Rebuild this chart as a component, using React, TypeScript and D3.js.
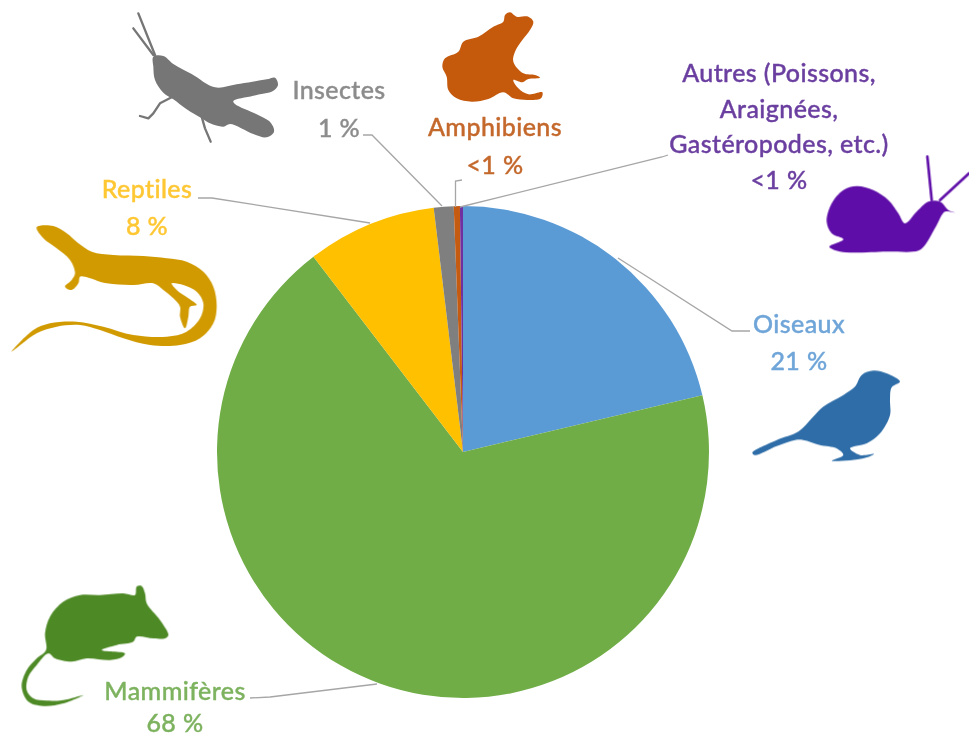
import { arc, curveCatmullRomClosed, line, pie } from "d3"

// parts du camembert, dans le sens horaire depuis midi
const categories = ["Oiseaux", "Mammifères", "Reptiles", "Insectes", "Amphibiens", "Autres"]
const shares = [21.3, 68.3, 8.5, 1.3, 0.4, 0.2]
const sliceColors = ["#5B9BD5", "#70AD47", "#FFC000", "#7F7F7F", "#C55A11", "#7030A0"]

// étiquettes
const labelLines = [
  ["Oiseaux", "21 %"],
  ["Mammifères", "68 %"],
  ["Reptiles", "8 %"],
  ["Insectes", "1 %"],
  ["Amphibiens", "<1 %"],
  ["Autres (Poissons,", "Araignées,", "Gastéropodes, etc.)", "<1 %"],
]
const labelColors = ["#6FA5D8", "#7DB25F", "#FFC733", "#8C8C8C", "#C4682C", "#6B3FA0"]
const labelX = [799, 175, 147, 339, 495, 779]
const labelY = [333, 700, 198, 99, 136, 82]
const labelStep = [37, 32, 37, 38, 38, 35.5]

// traits de rappel
const leaders: [number, number][][] = [
  [[618, 258], [732, 331], [750, 331]],
  [[377, 684], [270, 697], [250, 698]],
  [[370, 223], [212, 198], [198, 198]],
  [[442, 206], [372, 135], [363, 135]],
  [[455.5, 207], [455.5, 181], [462, 180]],
  [[460, 207], [662, 157], [668, 155]],
]

type Pt = [number, number]
interface Icon {
  color: string
  x: number
  y: number
  k: number
  outline: Pt[]
  strokes?: Pt[][]
  strokeWidth?: number
}

// silhouettes
const icons: Icon[] = [
  {
    color: "#767676", x: 120, y: 0, k: 1 / 3, strokeWidth: 7,
    outline: [[100, 170], [130, 168], [160, 192], [215, 222], [285, 262], [350, 253], [440, 238], [465, 233], [474, 255], [460, 272], [400, 287], [340, 303], [345, 312], [410, 343], [452, 368], [462, 395], [440, 412], [400, 402], [330, 372], [310, 380], [270, 370], [245, 355], [200, 328], [160, 298], [130, 278], [105, 240], [100, 200]],
    strokes: [
      [[55, 40], [105, 165]],
      [[40, 85], [100, 165]],
      [[155, 292], [120, 310], [100, 340], [85, 355], [60, 348]],
      [[245, 350], [255, 385], [272, 425]],
    ],
  },
  {
    color: "#C55A11", x: 435, y: 5, k: 1 / 3,
    outline: [[210, 30], [225, 22], [245, 35], [280, 35], [295, 50], [285, 75], [262, 105], [240, 140], [235, 170], [265, 205], [300, 210], [315, 218], [280, 222], [262, 232], [235, 225], [250, 250], [280, 268], [322, 262], [318, 280], [280, 285], [235, 280], [205, 262], [160, 282], [110, 290], [65, 280], [40, 255], [35, 215], [22, 185], [30, 160], [70, 140], [85, 110], [130, 95], [175, 65], [205, 50]],
  },
  {
    color: "#5F0FA8", x: 820, y: 150, k: 1 / 3, strokeWidth: 8,
    outline: [[20, 215], [35, 160], [70, 120], [110, 108], [160, 120], [205, 150], [235, 190], [255, 220], [290, 185], [325, 155], [360, 155], [385, 180], [405, 188], [375, 185], [350, 225], [315, 285], [295, 302], [200, 305], [60, 305], [28, 290], [70, 268], [35, 250]],
    strokes: [
      [[322, 20], [335, 150]],
      [[447, 70], [360, 150]],
    ],
  },
  {
    color: "#D09A00", x: 0, y: 170, k: 1 / 3,
    outline: [[110, 172], [160, 168], [200, 190], [235, 220], [275, 245], [340, 255], [430, 258], [500, 265], [560, 275], [610, 305], [640, 350], [650, 410], [640, 460], [600, 505], [540, 525], [450, 525], [370, 505], [300, 480], [240, 465], [170, 470], [110, 490], [35, 545], [100, 480], [150, 460], [230, 455], [310, 470], [400, 495], [500, 500], [560, 485], [600, 445], [610, 400], [590, 365], [550, 345], [515, 340], [530, 360], [565, 385], [590, 405], [570, 410], [565, 440], [555, 475], [540, 440], [540, 410], [520, 385], [490, 360], [460, 340], [400, 345], [320, 340], [255, 320], [240, 320], [235, 340], [215, 360], [195, 350], [215, 330], [225, 310], [210, 270], [170, 235], [130, 205]],
  },
  {
    color: "#4E8A26", x: 0, y: 570, k: 1 / 3,
    outline: [[135, 190], [150, 140], [190, 95], [240, 75], [300, 75], [370, 70], [405, 75], [410, 50], [425, 48], [435, 70], [440, 100], [480, 150], [505, 195], [495, 205], [460, 205], [410, 200], [400, 215], [350, 225], [305, 240], [375, 250], [365, 262], [330, 270], [260, 265], [215, 275], [165, 265], [145, 250], [110, 285], [85, 320], [80, 360], [100, 385], [140, 392], [190, 390], [250, 375], [190, 400], [130, 408], [85, 395], [65, 350], [80, 300], [110, 265], [138, 240]],
  },
  {
    color: "#2E6DA8", x: 720, y: 300, k: 1 / 3,
    outline: [[97, 458], [170, 420], [235, 395], [275, 355], [310, 320], [370, 285], [405, 260], [425, 225], [460, 212], [500, 220], [540, 245], [515, 262], [510, 300], [510, 345], [480, 400], [440, 430], [390, 445], [420, 465], [462, 462], [430, 475], [335, 482], [370, 465], [350, 445], [300, 435], [250, 420], [225, 420], [170, 438], [105, 465]],
  },
]

const width = 969
const height = 737
const cx = 463
const cy = 452
const radius = 246

export default function App() {
  const slices = pie<number>().sort(null)(shares)
  const sliceArc = arc<any>().innerRadius(0).outerRadius(radius)
  const straight = line()
  const smooth = line().curve(curveCatmullRomClosed.alpha(0.5))

  return (
    <svg
      width={width}
      height={height}
      viewBox={`0 0 ${width} ${height}`}
      style={{ position: "absolute", left: 0, top: 0, background: "#fff" }}
      fontFamily="Lato, sans-serif"
      fontWeight={500}
      fontSize={25}
      letterSpacing={0.4}
    >
      <defs>
        <filter id="soft" x="-5%" y="-5%" width="110%" height="110%">
          <feGaussianBlur stdDeviation="0.45" />
        </filter>
      </defs>

      <g transform={`translate(${cx},${cy})`}>
        {slices.map((s, i) => (
          <path key={categories[i]} d={sliceArc(s) ?? ""} fill={sliceColors[i]} />
        ))}
      </g>

      {leaders.map((pts, i) => (
        <path key={i} d={straight(pts) ?? ""} fill="none" stroke="#A6A6A6" strokeWidth={1.3} />
      ))}

      {/* silhouettes */}
      <g filter="url(#soft)">
        {icons.map((icon, i) => (
          <g key={i} transform={`translate(${icon.x},${icon.y}) scale(${icon.k})`}>
            <path d={smooth(icon.outline) ?? ""} fill={icon.color} />
            {icon.strokes?.map((s, j) => (
              <path
                key={j}
                d={straight(s) ?? ""}
                fill="none"
                stroke={icon.color}
                strokeWidth={icon.strokeWidth ?? 6}
                strokeLinecap="round"
                strokeLinejoin="round"
              />
            ))}
          </g>
        ))}
      </g>

      {labelLines.map((lines, i) => (
        <text key={i} textAnchor="middle" fill={labelColors[i]} stroke={labelColors[i]} strokeWidth={0.4}>
          {lines.map((t, j) => (
            <tspan key={j} x={labelX[i]} y={labelY[i] + j * labelStep[i]}>
              {t}
            </tspan>
          ))}
        </text>
      ))}
    </svg>
  )
}
